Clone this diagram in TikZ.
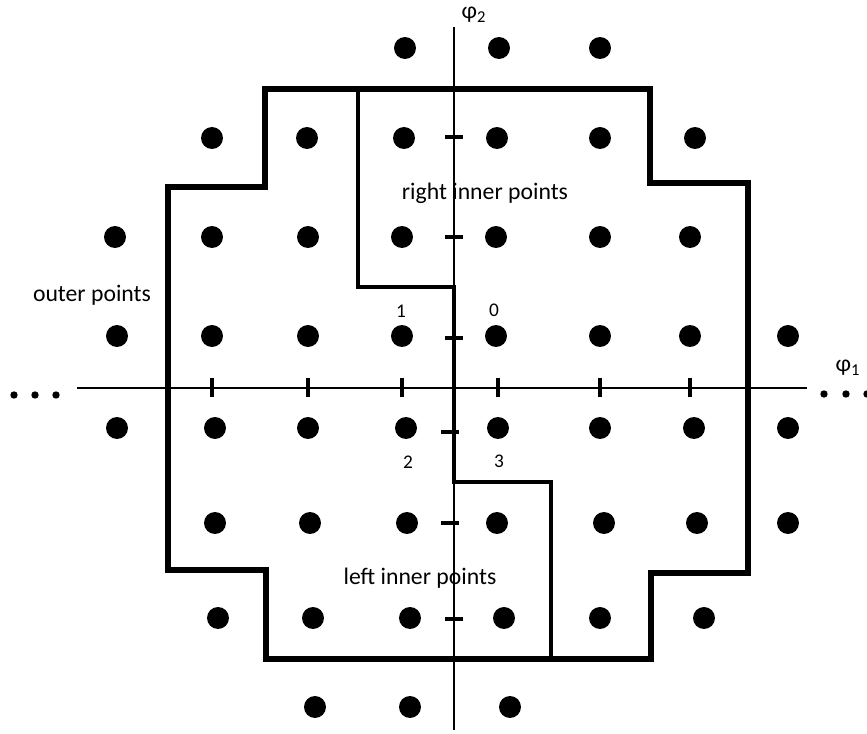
\documentclass[tikz,border=0pt]{standalone}
\usepackage{fontspec}
\setmainfont{Carlito}
\usetikzlibrary{positioning}
\tikzset{
 latpt/.style={circle,fill=black,minimum size=12.5pt,inner sep=0pt},
 elldot/.style={circle,fill=black,minimum size=4.2pt,inner sep=0pt},
 region/.style={line width=2.9pt},
 cutline/.style={line width=2pt},
 axisline/.style={line width=0.8pt},
 tck/.style={line width=1.9pt},
 lbl/.style={font=\fontsize{13.5}{16}\selectfont},
 idx/.style={font=\fontsize{11}{13}\selectfont},
}
\begin{document}
\begin{tikzpicture}[x=0.02cm,y=-0.02cm]
\useasboundingbox (0,0) rectangle (867,734);
% axes
\coordinate (xl) at (77,388); \coordinate (xr) at (807,388);
\coordinate (yt) at (454,27); \coordinate (yb) at (454,730);
\draw[axisline] (xl)--(xr);
\draw[axisline] (yt)--(yb);
\foreach \x in {212,308,402,498,600,690}{
 \draw[tck] (\x,378)--(\x,397);}
\foreach \y/\s in {137/0,237/0,338/0,432/-4,523/-4,619/0}{
 \draw[tck] (445+\s,\y)--(463+\s,\y);}
\node[lbl] (phi2) at (474,15){φ\textsubscript{2}};
\node[lbl] (phi1) at (848,368){φ\textsubscript{1}};
\foreach \x/\n in {14/1,35/2,56/3}{\node[elldot] (ldot\n) at (\x,395){};}
\foreach \x/\n in {824/1,846/2,867/3}{\node[elldot] (rdot\n) at (\x,394){};}
% lattice points
\foreach \y/\xs in {48/{405,499,600},138/{212,307,404,497,600,695},
 237/{115,212,308,402,496,600,690},336/{117,212,308,402,496,600,690,788},
 428/{117,215,308,406,498,600,694,788},523/{215,310,407,497,604,697,788},
 618/{218,313,410,504,600,704},707/{315,410,510}}{
 \foreach \x in \xs{\node[latpt] (p\x-\y) at (\x,\y){};}}
% regions
\draw[region] (168,187)--(265,187)--(265,89)--(650,89)--(650,183)--(748,183)
 --(748,573)--(651,573)--(651,659)--(266,659)--(266,570)--(168,570)--cycle;
\draw[cutline] (358,89)--(358,287)--(454,287)--(454,482)--(551,482)--(551,657);
\node[lbl] (rin) at (485,193){right inner points};
\node[lbl] (lin) at (420,578){left inner points};
\node[lbl] (outr) at (92,295){outer points};
\node[idx] (n1) at (401,311){1};
\node[idx] (n0) at (494,310){0};
\node[idx] (n2) at (408,462){2};
\node[idx] (n3) at (499,461){3};
\end{tikzpicture}
\end{document}
